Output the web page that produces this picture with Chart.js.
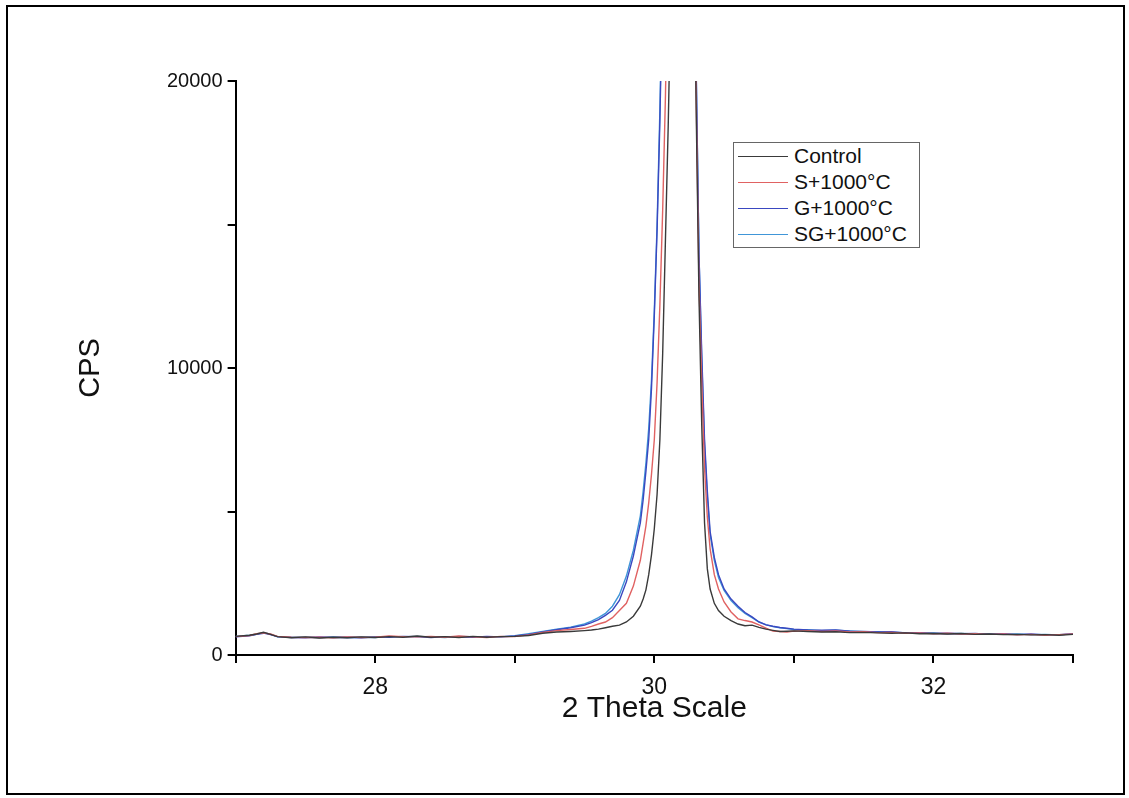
<!DOCTYPE html>
<html>
<head>
<meta charset="utf-8">
<script src="https://cdn.jsdelivr.net/npm/chart.js@4"></script>
<style>
  html, body { margin: 0; padding: 0; background: #fff; }
  #wrap { position: relative; width: 1129px; height: 798px; }
  #frame { position: absolute; left: 6px; top: 5px; width: 1115px; height: 786px; border: 2px solid #000; pointer-events: none; }
  #legend { position: absolute; left: 733px; top: 142px; width: 185px; height: 104px; border: 1px solid #666; background: #fff;
            padding: 0; font-family: "Liberation Sans", Arial, sans-serif; font-size: 21px; color: #111; box-sizing: content-box; }
  .row { display: flex; align-items: center; height: 26px; }
  .sample { width: 50px; height: 1px; margin-left: 4px; margin-right: 6px; }
</style>
</head>
<body>
<div id="wrap">
  <canvas id="c" width="1129" height="798"></canvas>
  <div id="legend"></div>
  <div id="frame"></div>
</div>
<script>
// 2-theta positions (degrees)
const twoTheta = [
  27.0, 27.1, 27.15, 27.2, 27.25, 27.3, 27.4, 27.5, 27.6, 27.7, 27.8, 27.9, 28.0, 28.1, 28.2, 28.3, 28.4, 28.5, 28.6, 28.7, 28.8, 28.9, 29.0, 29.1, 29.2, 29.3, 29.4, 29.5, 29.55, 29.6, 29.65, 29.7, 29.75, 29.8, 29.85,
  29.9, 29.92, 29.94, 29.96, 29.98, 30.0, 30.02, 30.04, 30.06, 30.08, 30.1, 30.12, 30.15, 30.18, 30.21, 30.24, 30.27, 30.3, 30.32, 30.34, 30.36, 30.38, 30.4, 30.43, 30.46, 30.5, 30.55, 30.6, 30.65, 30.7, 30.75, 30.8, 30.85, 30.9, 30.95, 31.0,
  31.1, 31.2, 31.3, 31.4, 31.5, 31.6, 31.7, 31.8, 31.9, 32.0, 32.1, 32.2, 32.3, 32.4, 32.5, 32.6, 32.7, 32.8, 32.9, 33.0
];

const seriesNames = ["Control", "S+1000°C", "G+1000°C", "SG+1000°C"];

const controlCps = [
  650, 690, 730, 790, 720, 640, 600, 630, 590, 620, 600, 630, 610, 640, 620, 660, 620, 640, 610, 650, 620, 640, 650, 680, 760, 800, 820, 850, 870, 900, 950, 1000, 1040, 1150, 1350,
  1700, 1950, 2270, 2800, 3500, 4400, 5600, 7500, 10500, 14500, 18500, 23500, 36000, 60000, 70000, 55000, 32000, 19000, 12500, 8000, 4600, 3000, 2300, 1800, 1550, 1350, 1200, 1080, 1020, 1040, 960, 900, 860, 820, 830, 840,
  820, 800, 810, 780, 790, 770, 760, 770, 740, 750, 730, 750, 720, 730, 710, 720, 700, 710, 690, 720
];

const sCps = [
  640, 680, 740, 770, 730, 650, 620, 610, 620, 600, 630, 610, 620, 660, 640, 630, 650, 620, 660, 630, 610, 650, 640, 700, 790, 850, 890, 930, 1000, 1080, 1150, 1300, 1550, 1800, 2400,
  3300, 3900, 4500, 5300, 6300, 7500, 9500, 12200, 15500, 19500, 25000, 32000, 45000, 65000, 70000, 55000, 32000, 19500, 13000, 9500, 6500, 4800, 3700, 2800, 2300, 1850, 1500, 1260, 1200, 1150, 1050, 940, 830, 820, 800, 830,
  850, 820, 840, 800, 810, 780, 790, 760, 770, 740, 760, 730, 740, 720, 730, 700, 720, 690, 710, 730
];

const gCps = [
  630, 670, 720, 760, 710, 640, 610, 600, 630, 610, 620, 600, 630, 620, 650, 640, 610, 640, 630, 620, 650, 630, 660, 720, 800, 880, 950, 1040, 1130, 1230, 1380, 1560, 1900, 2550, 3450,
  4600, 5400, 6400, 7500, 9300, 11800, 14800, 18600, 23500, 30000, 38000, 48000, 60000, 75000, 75000, 58000, 34000, 20500, 14000, 10500, 7500, 5700, 4300, 3400, 2800, 2300, 1950, 1700, 1480, 1330, 1150, 1050, 1000, 960, 930, 900,
  870, 860, 870, 830, 820, 800, 810, 770, 780, 750, 760, 740, 750, 720, 740, 710, 730, 700, 710, 730
];

const sgCps = [
  650, 690, 720, 780, 730, 630, 620, 620, 600, 630, 610, 620, 610, 650, 630, 650, 630, 610, 650, 640, 630, 640, 670, 740, 820, 900, 970, 1080, 1180, 1300, 1450, 1700, 2100, 2750, 3650,
  4850, 5700, 6700, 7900, 9600, 12000, 15000, 19000, 24000, 31000, 40000, 50000, 62000, 76000, 74000, 57000, 33500, 20300, 14000, 10300, 7300, 5500, 4200, 3300, 2700, 2250, 1900, 1650, 1450, 1300, 1150, 1060, 990, 950, 920, 890,
  880, 850, 860, 840, 810, 810, 790, 780, 760, 770, 740, 750, 730, 740, 720, 730, 710, 720, 700, 740
];

const xTickLabels = [28, 30, 32];
const yTickLabels = [0, 10000, 20000];

const seriesValues = [controlCps, sCps, gCps, sgCps];
const seriesColors = ["#3a3a3a", "#e06262", "#3a48c0", "#4096d8"];

const datasets = seriesNames.map((name, i) => ({
  label: name,
  data: twoTheta.map((x, j) => ({ x: x, y: seriesValues[i][j] })),
  borderColor: seriesColors[i],
  backgroundColor: seriesColors[i],
  borderWidth: 1.4,
  pointRadius: 0,
  tension: 0,
  fill: false
}));

const FONT = "'Liberation Sans', Arial, sans-serif";

const chart = new Chart(document.getElementById('c'), {
  type: 'line',
  data: { datasets: datasets },
  options: {
    responsive: false,
    animation: false,
    devicePixelRatio: 1,
    layout: { padding: { left: 74, top: 81, right: 56, bottom: 71 } },
    plugins: { legend: { display: false }, tooltip: { enabled: false } },
    scales: {
      x: {
        type: 'linear',
        min: 27, max: 33,
        afterFit: (s) => { s.height = 72; },
        border: { display: true, color: '#000', width: 2 },
        grid: { drawOnChartArea: false, drawTicks: true, tickLength: 8, color: '#000', lineWidth: 2 },
        ticks: {
          stepSize: 1, padding: 11, color: '#111', maxRotation: 0, autoSkip: false,
          font: { family: FONT, size: 23 },
          callback: (v) => xTickLabels.includes(v) ? String(v) : ''
        },
        title: { display: true, text: '2 Theta Scale', color: '#111', padding: 0, font: { family: FONT, size: 30 } }
      },
      y: {
        type: 'linear',
        min: 0, max: 20000,
        afterFit: (s) => { s.width = 161.6; },
        border: { display: true, color: '#000', width: 2 },
        grid: { drawOnChartArea: false, drawTicks: true, tickLength: 8, color: '#000', lineWidth: 2 },
        ticks: {
          stepSize: 5000, padding: 5, color: '#111', autoSkip: false,
          font: { family: FONT, size: 20 },
          callback: (v) => yTickLabels.includes(v) ? String(v) : ''
        },
        title: { display: true, text: 'CPS', color: '#111', padding: 0, font: { family: FONT, size: 29 } }
      }
    }
  }
});

// HTML legend built from the chart's datasets
const legendEl = document.getElementById('legend');
chart.data.datasets.forEach(ds => {
  const row = document.createElement('div');
  row.className = 'row';
  const s = document.createElement('span');
  s.className = 'sample';
  s.style.backgroundColor = ds.borderColor;
  const t = document.createElement('span');
  t.textContent = ds.label;
  row.appendChild(s); row.appendChild(t);
  legendEl.appendChild(row);
});
</script>
</body>
</html>
